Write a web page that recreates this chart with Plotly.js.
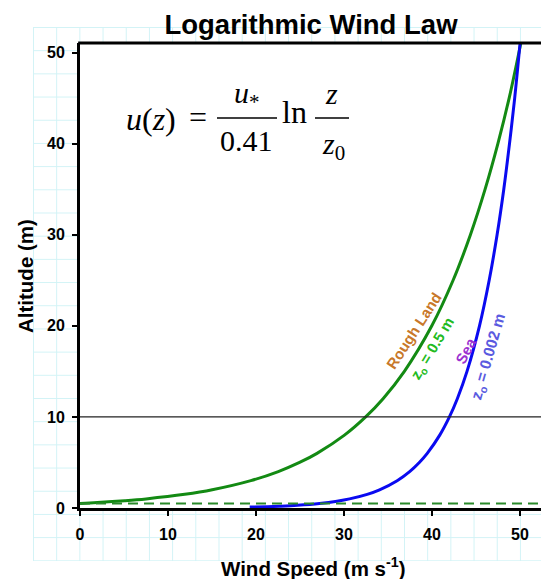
<!DOCTYPE html>
<html>
<head>
<meta charset="utf-8">
<script src="https://cdn.plot.ly/plotly-3.0.1.min.js"></script>
<style>
  html, body { margin:0; padding:0; background:#ffffff; }
  #wrap { position:relative; width:541px; height:579px; overflow:hidden; }
  #bg { position:absolute; left:33px; top:27px; width:520px; height:534px;
        background-image: linear-gradient(to right, #d2f3f6 1px, transparent 1px),
                          linear-gradient(to bottom, #d2f3f6 1px, transparent 1px);
        background-size: 23.2px 23.2px; }
  #chart { position:absolute; left:0; top:0; width:541px; height:579px; }
</style>
</head>
<body>
<div id="wrap"><div id="bg"></div><div id="chart"></div></div>
<script>
// ---- data ----
const landAltitude = [0.5, 0.6, 0.8, 1, 1.5, 2, 3, 4, 5, 6, 8, 10, 12, 15, 20, 25, 30, 35, 40, 45, 51];
const landSpeed    = [0, 1.98, 5.09, 7.51, 11.91, 15.03, 19.42, 22.54, 24.96, 26.94, 30.06, 32.47, 34.45, 36.87, 39.99, 42.41, 44.38, 46.05, 47.5, 48.78, 50.1];
const seaAltitude  = [0.1, 0.15, 0.2, 0.3, 0.5, 0.75, 1, 1.5, 2, 3, 4, 5, 6, 8, 10, 12, 15, 20, 25, 30, 35, 40, 45, 51];
const seaSpeed     = [19.29, 21.28, 22.7, 24.7, 27.22, 29.22, 30.64, 32.64, 34.05, 36.05, 37.47, 38.57, 39.47, 40.89, 41.99, 42.89, 43.99, 45.41, 46.51, 47.41, 48.17, 48.82, 49.41, 50.02];
const landRoughness = 0.5;      // z0 of rough land (m), dashed line
const referenceHeight = 10;     // thin black line (m)
const xTicks = [0, 10, 20, 30, 40, 50];
const yTicks = [0, 10, 20, 30, 40, 50];

// ---- layout helpers (pixel -> paper) ----
const L = 80, R = 541, T = 43, B = 508;
const px = x => (x - L) / (R - L);
const py = y => (B - y) / (B - T);

const serif = 'Liberation Serif, Times New Roman, serif';
const sans = 'Liberation Sans, Arial, sans-serif';

const traces = [
  { x: landSpeed, y: landAltitude, mode: 'lines', line: {color: '#138a13', width: 3, shape: 'spline'}, hoverinfo: 'skip' },
  { x: seaSpeed, y: seaAltitude, mode: 'lines', line: {color: '#0a0af0', width: 3, shape: 'spline'}, hoverinfo: 'skip' }
];

function ann(text, x, y, size, opts) {
  return Object.assign({ text: text, xref: 'paper', yref: 'paper', x: px(x), y: py(y),
    xanchor: 'center', yanchor: 'middle', showarrow: false,
    font: {family: serif, size: size, color: '#000'} }, opts || {});
}

const annotations = [
  ann('<i>u</i>(<i>z</i>)', 151, 119, 32),
  ann('=', 198, 117, 32),
  ann('<i>u</i><sub>*</sub>', 247, 95, 30),
  ann('0.41', 246.5, 141, 30),
  ann('ln', 294, 112, 32),
  ann('<i>z</i>', 331, 94, 30),
  ann('<i>z</i><sub>0</sub>', 333, 146, 30),
  // curve labels
  ann('<b>Rough Land</b>', 413, 331, 15, {textangle: -57, font: {family: sans, size: 15, color: '#c8782a'}}),
  ann('<b>z<sub>o</sub> = 0.5 m</b>', 432, 349, 15, {textangle: -59, font: {family: sans, size: 15, color: '#22bb22'}}),
  ann('<b>Sea</b>', 465, 351, 15, {textangle: -62, font: {family: sans, size: 15, color: '#9b30d0'}}),
  ann('<b>z<sub>o</sub> = 0.002 m</b>', 488, 357, 15.5, {textangle: -74, font: {family: sans, size: 15.5, color: '#5a5ae0'}}),
  // axis titles
  ann('<b>Wind Speed (m s<sup>-1</sup>)</b>', 313, 567, 20.5, {font: {family: sans, size: 20.5, color: '#000'}}),
  ann('<b>Altitude (m)</b>', 25, 276, 20.5, {textangle: -90, font: {family: sans, size: 20.5, color: '#000'}})
];

const shapes = [
  // fraction bars
  {type: 'line', xref: 'paper', yref: 'paper', x0: px(217), x1: px(277), y0: py(118), y1: py(118), line: {color: '#000', width: 1.6}},
  {type: 'line', xref: 'paper', yref: 'paper', x0: px(315), x1: px(349), y0: py(118), y1: py(118), line: {color: '#000', width: 1.6}},
  // reference lines
  {type: 'line', xref: 'paper', yref: 'y', x0: 0, x1: 1, y0: referenceHeight, y1: referenceHeight, line: {color: '#222', width: 1.4}},
  {type: 'line', xref: 'paper', yref: 'y', x0: 0, x1: 1, y0: landRoughness, y1: landRoughness, line: {color: '#2a8a2a', width: 2, dash: '10px,6px'}},
  // top border
  {type: 'line', xref: 'paper', yref: 'paper', x0: -0.004, x1: 1.05, y0: 1, y1: 1, line: {color: '#000', width: 3}}
];

const tickFont = {family: sans, size: 16, color: '#000', weight: 'bold'};

const layout = {
  width: 541, height: 579,
  margin: {l: L, r: 0, t: T, b: 579 - B},
  paper_bgcolor: 'rgba(0,0,0,0)',
  plot_bgcolor: '#ffffff',
  showlegend: false,
  title: {text: '<b>Logarithmic Wind Law</b>', font: {family: sans, size: 27.5, color: '#000'},
          xref: 'container', yref: 'container', x: 311 / 541, y: 1 - 24 / 579, xanchor: 'center', yanchor: 'middle'},
  xaxis: {range: [0, 52.4], tickvals: xTicks, ticktext: xTicks.map(String), ticks: 'outside', ticklen: 5, tickwidth: 2,
          tickcolor: '#000', showgrid: false, zeroline: false, showline: true, linewidth: 3, linecolor: '#000',
          tickfont: tickFont, fixedrange: true, ticklabelstandoff: 5},
  yaxis: {range: [0, 51.05], tickvals: yTicks, ticktext: yTicks.map(String), ticks: 'outside', ticklen: 5, tickwidth: 2,
          tickcolor: '#000', showgrid: false, zeroline: false, showline: true, linewidth: 3, linecolor: '#000',
          tickfont: tickFont, fixedrange: true, ticklabelstandoff: 4},
  annotations: annotations,
  shapes: shapes
};

Plotly.newPlot('chart', traces, layout, {staticPlot: true, displayModeBar: false});
</script>
</body>
</html>
